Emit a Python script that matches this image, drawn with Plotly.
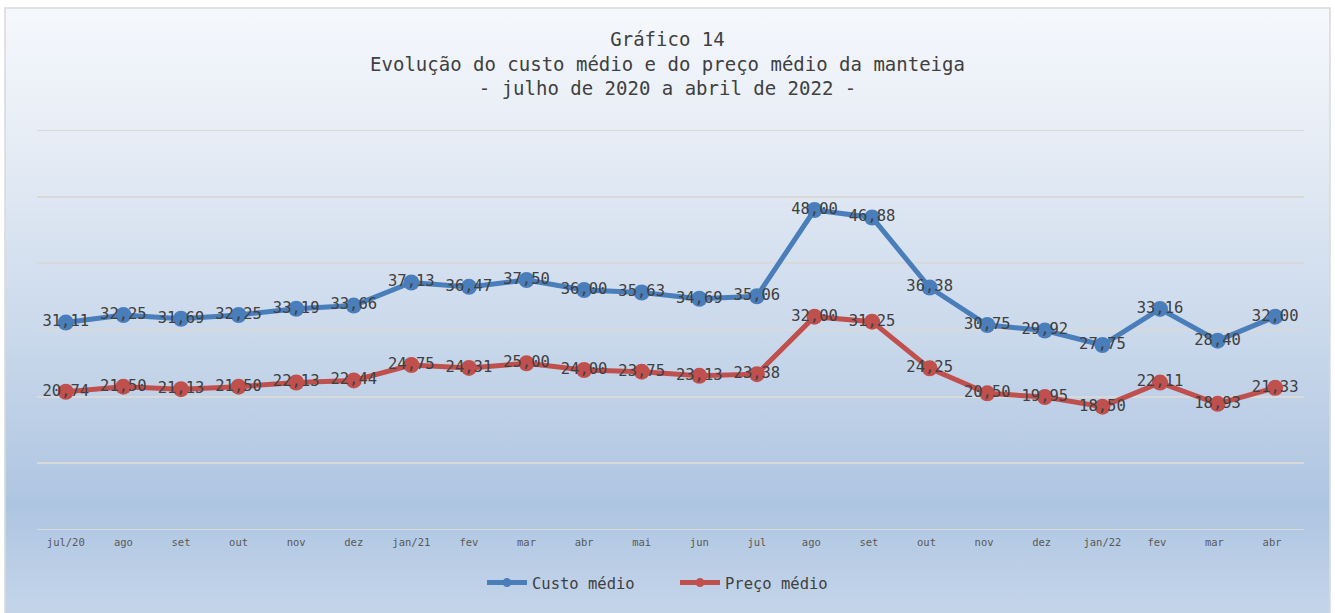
import plotly.graph_objects as go
import urllib.parse

categories = ["jul/20", "ago", "set", "out", "nov", "dez", "jan/21", "fev", "mar", "abr",
              "mai", "jun", "jul", "ago ", "set ", "out ", "nov ", "dez ", "jan/22", "fev ",
              "mar ", "abr "]
custo_medio = [31.11, 32.25, 31.69, 32.25, 33.19, 33.66, 37.13, 36.47, 37.50, 36.00, 35.63,
               34.69, 35.06, 48.00, 46.88, 36.38, 30.75, 29.92, 27.75, 33.16, 28.40, 32.00]
preco_medio = [20.74, 21.50, 21.13, 21.50, 22.13, 22.44, 24.75, 24.31, 25.00, 24.00, 23.75,
               23.13, 23.38, 32.00, 31.25, 24.25, 20.50, 19.95, 18.50, 22.11, 18.93, 21.33]
series_names = ["Custo médio", "Preço médio"]

W, H = 1335, 613
L, R, T, B = 37, 31, 130, 83
pw = W - L - R
ph = H - T - B

FONT = "DejaVu Sans Mono"
BLUE = "#4A7EBB"
RED = "#C0504D"
GRID = "#D9D9D9"

fig = go.Figure()
for name, vals, col in [(series_names[0], custo_medio, BLUE), (series_names[1], preco_medio, RED)]:
    fig.add_trace(go.Scatter(
        x=categories, y=vals, name=name, mode="lines+markers+text",
        line=dict(color=col, width=5),
        marker=dict(color=col, size=16),
        texttemplate="%{y:.2f}", textposition="middle center",
        textfont=dict(family=FONT, size=15.5, color="#404040"),
        cliponaxis=False, showlegend=False,
    ))
# legend entries with a smaller marker, as in the reference
for name, col in [(series_names[0], BLUE), (series_names[1], RED)]:
    fig.add_trace(go.Scatter(
        x=[None], y=[None], name=name, mode="lines+markers",
        line=dict(color=col, width=5), marker=dict(color=col, size=9),
    ))

svg = ('<svg xmlns="http://www.w3.org/2000/svg" width="100" height="100" preserveAspectRatio="none">'
       '<defs><linearGradient id="g" x1="0" y1="0" x2="0" y2="1">'
       '<stop offset="0" stop-color="#F5F8FC"/>'
       '<stop offset="0.2" stop-color="#E8EEF6"/>'
       '<stop offset="0.55" stop-color="#C9D8EB"/>'
       '<stop offset="0.82" stop-color="#AEC5E1"/>'
       '<stop offset="1" stop-color="#C4D5EA"/>'
       '</linearGradient></defs><rect width="100" height="100" fill="url(#g)"/></svg>')
src = "data:image/svg+xml;charset=utf-8," + urllib.parse.quote(svg)

bx0, bx1, by0, by1 = 5, 1330, 8, 613
def px(x):
    return (x - L) / pw
def py(y):
    return (H - B - y) / ph

fig.add_layout_image(dict(source=src, xref="paper", yref="paper",
                          x=px(bx0), y=py(by0), sizex=px(bx1) - px(bx0), sizey=py(by0) - py(by1),
                          xanchor="left", yanchor="top", sizing="stretch", layer="below"))
fig.add_shape(type="rect", xref="paper", yref="paper",
              x0=px(bx0), x1=px(bx1), y0=py(by1 + 2), y1=py(by0),
              line=dict(color=GRID, width=1.5), fillcolor="rgba(0,0,0,0)", layer="below")
for yv in (0, 60):
    fig.add_shape(type="line", xref="paper", yref="y", x0=0, x1=1, y0=yv, y1=yv,
                  line=dict(color=GRID, width=2), layer="below")

fig.update_layout(
    width=W, height=H,
    margin=dict(l=L, r=R, t=T, b=B),
    paper_bgcolor="white", plot_bgcolor="rgba(0,0,0,0)",
    separators=",.",
    title=dict(text="Gráfico 14<br>Evolução do custo médio e do preço médio da manteiga<br>- julho de 2020 a abril de 2022 -",
               x=0.5, xanchor="center", y=1 - 46 / H, yanchor="middle",
               font=dict(family=FONT, size=19, color="#404040")),
    xaxis=dict(type="category", range=[-0.5, len(categories) - 0.5], showgrid=False,
               zeroline=False, showline=False,
               tickfont=dict(family=FONT, size=10.5, color="#595959"), ticks="", ticklabelstandoff=4),
    yaxis=dict(range=[0, 60], dtick=10, showticklabels=False, showgrid=True,
               gridcolor=GRID, gridwidth=2, zeroline=False, showline=False),
    showlegend=True,
    legend=dict(orientation="h", x=px(482), xanchor="left", y=py(583), yanchor="middle",
                font=dict(family=FONT, size=15.5, color="#404040"), bgcolor="rgba(0,0,0,0)",
                itemwidth=40, entrywidth=138),
)

fig.write_html("out.html", config={"displayModeBar": False},
               post_script="document.body.style.margin='0';")
